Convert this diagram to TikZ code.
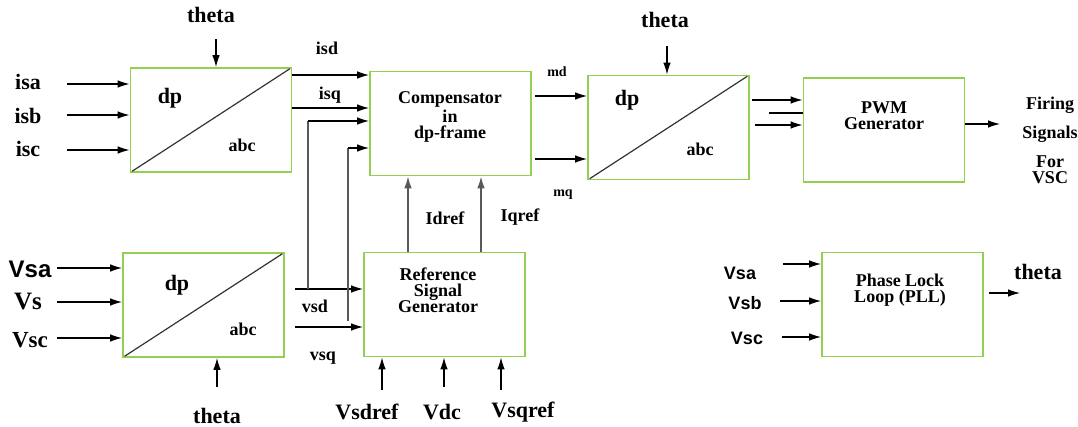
\documentclass[tikz,border=0pt]{standalone}
\usepackage{fontspec}
\setmainfont{Liberation Serif}
\setsansfont{Liberation Sans}
\usetikzlibrary{arrows.meta}
\definecolor{blkgreen}{RGB}{146,208,80}
\tikzset{
    blk/.style={draw=blkgreen, line width=0.9pt, minimum width=80.5pt, minimum height=52pt, inner sep=0},
    sig/.style={-{Latex[length=6pt,width=3.8pt]}, line width=0.6pt},
    tap/.style={line width=0.8pt, black!65},
    diag/.style={line width=0.6pt, black!80, shorten <=1.5pt, shorten >=1.5pt},
    lbl/.style={font=\bfseries\fontsize{9}{8}\selectfont, inner sep=0, align=center},
    lblbig/.style={font=\bfseries\fontsize{11}{12}\selectfont, inner sep=0},
    lblsmall/.style={font=\bfseries\fontsize{7}{8}\selectfont, inner sep=0},
    lblsans/.style={font=\sffamily\bfseries\fontsize{9}{10}\selectfont, inner sep=0}
}
\begin{document}
\begin{tikzpicture}[x=0.5pt, y=-0.5pt]
    \useasboundingbox (0,0) rectangle (1078,427);

    % blocks
    \node[blk] (tA) at (211,120) {};
    \node[blk] (tB) at (203.5,305) {};
    \node[blk] (comp) at (450.5,123.5) {};
    \node[blk] (ref) at (444.5,304.5) {};
    \node[blk] (tD) at (668.5,127.5) {};
    \node[blk] (pwm) at (884,130) {};
    \node[blk] (pll) at (902.5,304.5) {};

    \draw[diag] (tA.south west) -- (tA.north east);
    \draw[diag] (tB.south west) -- (tB.north east);
    \draw[diag] (tD.south west) -- (tD.north east);

    \node[lblbig] (dpA) at (170,98) {dp};
    \node[lbl] (abcA) at (242,145) {abc};
    \node[lblbig] (dpB) at (177,285) {dp};
    \node[lbl] (abcB) at (243,329) {abc};
    \node[lblbig] (dpD) at (627,100) {dp};
    \node[lbl] (abcD) at (700,149) {abc};

    \node[lbl] (compTxt) at (450,117) {Compensator\\in\\dp-frame};
    \node[lbl] (refTxt) at (438,290) {Reference\\Signal\\Generator};
    \node[lbl] (pwmTxt) at (884,116) {PWM\\Generator};
    \node[lbl] (pllTxt) at (900,290) {Phase Lock\\Loop (PLL)};

    % current transform
    \node[lblbig] (thA) at (211,15) {theta};
    \coordinate (thAin) at (216,39);
    \draw[sig] (thAin) -- (thAin |- tA.north);
    \node[lblbig] (isa) at (28,82) {isa};
    \node[lblbig] (isb) at (28,116) {isb};
    \node[lblbig] (isc) at (28,149) {isc};
    \coordinate (isaIn) at (67,84);
    \coordinate (isbIn) at (67,115);
    \coordinate (iscIn) at (67,150);
    \draw[sig] (isaIn) -- (isaIn -| tA.west);
    \draw[sig] (isbIn) -- (isbIn -| tA.west);
    \draw[sig] (iscIn) -- (iscIn -| tA.west);

    \coordinate (isdOut) at (292,75);
    \coordinate (isqOut) at (292,108);
    \draw[sig] (isdOut) -- (isdOut -| comp.west);
    \draw[sig] (isqOut) -- (isqOut -| comp.west);
    \node[lbl] (isd) at (327,48) {isd};
    \node[lbl] (isq) at (330,95) {isq};

    % voltage transform
    \node[lblsans, font=\sffamily\bfseries\fontsize{12}{12}\selectfont] (vsaB) at (30,269) {Vsa};
    \node[lblbig, font=\bfseries\fontsize{12.5}{12}\selectfont] (vsB) at (28,302) {Vs};
    \node[lblbig, font=\bfseries\fontsize{11.5}{12}\selectfont] (vscB) at (30,340) {Vsc};
    \coordinate (vsaIn) at (57,268);
    \coordinate (vsIn) at (57,302);
    \coordinate (vscIn) at (57,338);
    \draw[sig] (vsaIn) -- (vsaIn -| tB.west);
    \draw[sig] (vsIn) -- (vsIn -| tB.west);
    \draw[sig] (vscIn) -- (vscIn -| tB.west);
    \node[lblbig] (thB) at (217,416) {theta};
    \coordinate (thBin) at (217,387);
    \draw[sig] (thBin) -- (thBin |- tB.south);

    \coordinate (vsdOut) at (295,289);
    \coordinate (vsqOut) at (295,327);
    \draw[sig] (vsdOut) -- (vsdOut -| ref.west);
    \draw[sig] (vsqOut) -- (vsqOut -| ref.west);
    \node[lbl] (vsd) at (315,306) {vsd};
    \node[lbl] (vsq) at (323,358) {vsq};

    % taps to compensator
    \coordinate (vsdTap) at (308,289);
    \coordinate (vsdUp) at (308,121);
    \coordinate (vsqTap) at (348,321);
    \coordinate (vsqUp) at (348,148);
    \draw[tap] (vsdTap) -- (vsdUp);
    \draw[tap] (vsqTap) -- (vsqUp);
    \draw[sig] (vsdUp) -- (vsdUp -| comp.west);
    \draw[sig] (vsqUp) -- (vsqUp -| comp.west);

    % reference generator
    \coordinate (idref) at (408,0);
    \coordinate (iqref) at (481,0);
    \draw[sig, tap] (idref |- ref.north) -- (idref |- comp.south);
    \draw[sig, tap] (iqref |- ref.north) -- (iqref |- comp.south);
    \node[lbl] (idrefL) at (445,218) {Idref};
    \node[lbl] (iqrefL) at (520,217) {Iqref};

    \coordinate (vsdrefIn) at (382,390);
    \coordinate (vdcIn) at (444,387);
    \coordinate (vsqrefIn) at (501,390);
    \draw[sig] (vsdrefIn) -- (vsdrefIn |- ref.south);
    \draw[sig] (vdcIn) -- (vdcIn |- ref.south);
    \draw[sig] (vsqrefIn) -- (vsqrefIn |- ref.south);
    \node[lblbig] (vsdref) at (367,412) {Vsdref};
    \node[lblbig] (vdc) at (442,412) {Vdc};
    \node[lblbig] (vsqref) at (523,412) {Vsqref};

    % modulation
    \coordinate (mdOut) at (535,96);
    \coordinate (mqOut) at (535,159);
    \draw[sig] (mdOut) -- (mdOut -| tD.west);
    \draw[sig] (mqOut) -- (mqOut -| tD.west);
    \node[lblsmall] (md) at (557,72) {md};
    \node[lblsmall] (mq) at (563,195) {mq};
    \node[lblbig] (thD) at (665,20) {theta};
    \coordinate (thDin) at (667,46);
    \draw[sig] (thDin) -- (thDin |- tD.north);

    \coordinate (mA) at (752,100);
    \coordinate (mB) at (769,113);
    \coordinate (mC) at (755,125);
    \draw[sig] (mA) -- (mA -| pwm.west);
    \draw[line width=0.6pt] (mB) -- (mB -| pwm.west);
    \draw[sig] (mC) -- (mC -| pwm.west);

    % firing signals
    \coordinate (fireOut) at (1000,124);
    \draw[sig] (fireOut -| pwm.east) -- (fireOut);
    \node[lbl] (firing) at (1050,105) {Firing};
    \node[lbl] (signals) at (1050,134) {Signals};
    \node[lbl] (for) at (1050,162) {For};
    \node[lbl] (vsc) at (1050,178) {VSC};

    % PLL
    \node[lblsans] (vsaP) at (740,273) {Vsa};
    \node[lblsans] (vsbP) at (745,303) {Vsb};
    \node[lblsans] (vscP) at (747,338) {Vsc};
    \coordinate (pllA) at (783,264);
    \coordinate (pllB) at (780,301);
    \coordinate (pllC) at (782,337);
    \draw[sig] (pllA) -- (pllA -| pll.west);
    \draw[sig] (pllB) -- (pllB -| pll.west);
    \draw[sig] (pllC) -- (pllC -| pll.west);
    \coordinate (thOut) at (1020,293);
    \draw[sig] (thOut -| pll.east) ++(5,0) -- (thOut);
    \node[lblbig] (thP) at (1038,272) {theta};
\end{tikzpicture}
\end{document}
